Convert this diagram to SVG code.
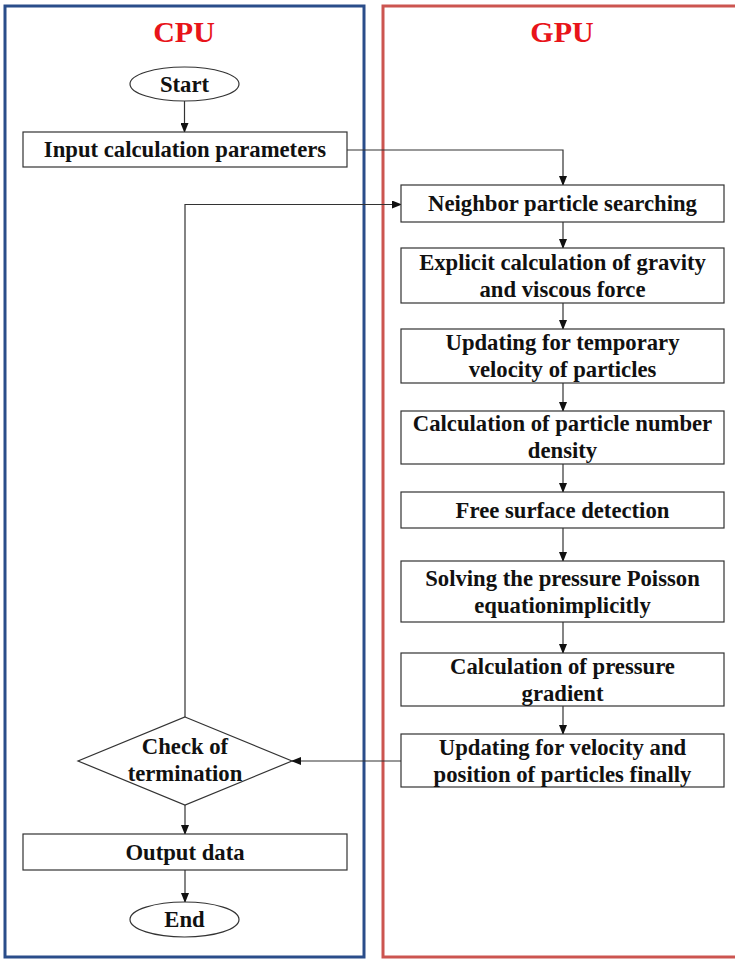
<svg xmlns="http://www.w3.org/2000/svg" width="735" height="959" viewBox="0 0 735 959">
<defs>
<marker id="arr" markerWidth="10" markerHeight="8" refX="9" refY="4" orient="auto" markerUnits="userSpaceOnUse">
<path d="M0,0 L10,4 L0,8 Z" fill="#111"/>
</marker>
<style>
.box{fill:#fff;stroke:#333;stroke-width:1.2}
.t{font-family:"Liberation Serif","Times New Roman",serif;font-weight:bold;font-size:22.7px;fill:#111;text-anchor:middle}
.title{font-family:"Liberation Serif","Times New Roman",serif;font-weight:bold;font-size:30px;fill:#e8141a;text-anchor:middle}
.c{fill:none;stroke:#333;stroke-width:1.2}
</style>
</defs>
<rect width="735" height="959" fill="#fff"/>
<g id="cpu-frame">
<rect x="5" y="6" width="359" height="951" fill="none" stroke="#2a4d8a" stroke-width="3"/>
<text class="title" x="184" y="42">CPU</text>
</g>
<g id="gpu-frame">
<rect x="383" y="6" width="360" height="951" fill="none" stroke="#cc5550" stroke-width="3"/>
<text class="title" x="562" y="42">GPU</text>
</g>
<g id="connectors">
<line class="c" x1="184.5" y1="101" x2="184.5" y2="132" marker-end="url(#arr)"/>
<polyline class="c" points="347,150 563,150 563,185" marker-end="url(#arr)"/>
<polyline class="c" points="185,717 185,204.5 401,204.5" marker-end="url(#arr)"/>
<line class="c" x1="563" y1="222" x2="563" y2="248" marker-end="url(#arr)"/>
<line class="c" x1="563" y1="303" x2="563" y2="329" marker-end="url(#arr)"/>
<line class="c" x1="563" y1="383" x2="563" y2="411" marker-end="url(#arr)"/>
<line class="c" x1="563" y1="464" x2="563" y2="492" marker-end="url(#arr)"/>
<line class="c" x1="563" y1="528" x2="563" y2="561" marker-end="url(#arr)"/>
<line class="c" x1="563" y1="622" x2="563" y2="653" marker-end="url(#arr)"/>
<line class="c" x1="563" y1="706" x2="563" y2="734" marker-end="url(#arr)"/>
<line class="c" x1="401" y1="761" x2="292" y2="761" marker-end="url(#arr)"/>
<line class="c" x1="185" y1="805" x2="185" y2="834" marker-end="url(#arr)"/>
<line class="c" x1="185" y1="870" x2="185" y2="902" marker-end="url(#arr)"/>
</g>
<g id="start">
<ellipse class="box" cx="184.5" cy="84" rx="54.5" ry="17"/>
<text class="t" x="184.5" y="91.5">Start</text>
</g>
<g id="input">
<rect class="box" x="23" y="132" width="324" height="35"/>
<text class="t" x="185" y="157">Input calculation parameters</text>
</g>
<g id="neighbor">
<rect class="box" x="401" y="185" width="323" height="37"/>
<text class="t" x="562.5" y="211">Neighbor particle searching</text>
</g>
<g id="explicit">
<rect class="box" x="401" y="248" width="323" height="55"/>
<text class="t" x="562.5" y="269.5">Explicit calculation of gravity</text>
<text class="t" x="562.5" y="296.5">and viscous force</text>
</g>
<g id="temp-velocity">
<rect class="box" x="401" y="329" width="323" height="54"/>
<text class="t" x="562.5" y="350">Updating for temporary</text>
<text class="t" x="562.5" y="377">velocity of particles</text>
</g>
<g id="density">
<rect class="box" x="401" y="411" width="323" height="53"/>
<text class="t" x="562.5" y="431">Calculation of particle number</text>
<text class="t" x="562.5" y="458">density</text>
</g>
<g id="free-surface">
<rect class="box" x="401" y="492" width="323" height="36"/>
<text class="t" x="562.5" y="517.5">Free surface detection</text>
</g>
<g id="poisson">
<rect class="box" x="401" y="561" width="323" height="61"/>
<text class="t" x="562.5" y="585.5">Solving the pressure Poisson</text>
<text class="t" x="562.5" y="612.5">equationimplicitly</text>
</g>
<g id="gradient">
<rect class="box" x="401" y="653" width="323" height="53"/>
<text class="t" x="562.5" y="673.5">Calculation of pressure</text>
<text class="t" x="562.5" y="700.5">gradient</text>
</g>
<g id="final-update">
<rect class="box" x="401" y="734" width="323" height="53"/>
<text class="t" x="562.5" y="754.5">Updating for velocity and</text>
<text class="t" x="562.5" y="781.5">position of particles finally</text>
</g>
<g id="check">
<polygon class="box" points="185,717 292,761 185,805 78,761"/>
<text class="t" x="185" y="753.5">Check of</text>
<text class="t" x="185" y="780.5">termination</text>
</g>
<g id="output">
<rect class="box" x="23" y="834" width="324" height="36"/>
<text class="t" x="185" y="859.5">Output data</text>
</g>
<g id="end">
<ellipse class="box" cx="184.5" cy="919.5" rx="54.5" ry="17.5"/>
<text class="t" x="184.5" y="927">End</text>
</g>
</svg>
